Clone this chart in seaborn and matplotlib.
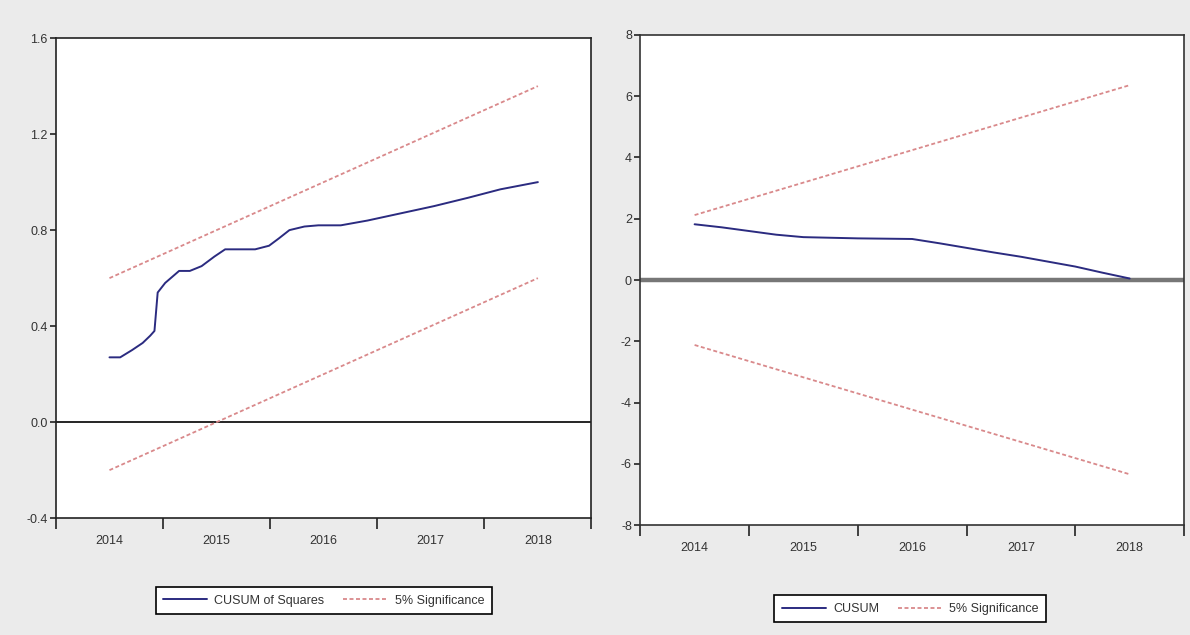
import matplotlib
matplotlib.use("Agg")
import matplotlib.pyplot as plt
import pandas as pd
import seaborn as sns

# ---- CUSUM of squares (left panel) ----
cusumsq_t = [2014.00, 2014.10, 2014.21, 2014.31, 2014.38, 2014.42, 2014.45, 2014.52,
             2014.65, 2014.75, 2014.86, 2014.98, 2015.08, 2015.24, 2015.36, 2015.49,
             2015.58, 2015.68, 2015.82, 2015.95, 2016.16, 2016.41, 2016.72, 2017.03,
             2017.35, 2017.65, 2018.00]
cusumsq_v = [0.27, 0.27, 0.30, 0.33, 0.36, 0.38, 0.54, 0.58,
             0.63, 0.63, 0.65, 0.69, 0.72, 0.72, 0.72, 0.735,
             0.765, 0.80, 0.815, 0.82, 0.82, 0.84, 0.87, 0.90,
             0.935, 0.97, 1.00]
sq_band_t = [2014.0, 2018.0]
sq_upper = [0.60, 1.40]
sq_lower = [-0.20, 0.60]

# ---- CUSUM (right panel) ----
cusum_t = [2014.00, 2014.25, 2014.50, 2014.75, 2015.00, 2015.25, 2015.50, 2015.75,
           2016.00, 2016.25, 2016.50, 2016.75, 2017.00, 2017.25, 2017.50, 2017.75,
           2018.00]
cusum_v = [1.82, 1.72, 1.60, 1.48, 1.40, 1.38, 1.36, 1.35,
           1.34, 1.20, 1.05, 0.90, 0.76, 0.60, 0.44, 0.24,
           0.05]
cs_band_t = [2014.0, 2018.0]
cs_upper = [2.12, 6.36]
cs_lower = [-2.12, -6.34]

years = [2014, 2015, 2016, 2017, 2018]
year_labels = ["2014", "2015", "2016", "2017", "2018"]
left_yticks = [-0.4, 0.0, 0.4, 0.8, 1.2, 1.6]
right_yticks = [-8, -6, -4, -2, 0, 2, 4, 6, 8]

sns.set_style("ticks")
plt.rcParams["font.family"] = ["Liberation Sans Narrow", "Liberation Sans", "DejaVu Sans"]
plt.rcParams["axes.unicode_minus"] = False

BLUE = "#2b2b80"
RED = "#d9898b"
DASH = (0, (2.2, 1.4))

fig = plt.figure(figsize=(11.9, 6.35), dpi=100, facecolor="#ebebeb")
axL = fig.add_axes([0.047, 0.184, 0.450, 0.756])
axR = fig.add_axes([0.538, 0.173, 0.457, 0.772])


def style_axes(ax, yticks, ylabels, spine_color):
    ax.set_facecolor("white")
    ax.set_xlim(2013.5, 2018.5)
    ax.set_ylim(min(yticks), max(yticks))
    ax.set_xticks([y - 0.5 for y in years] + [years[-1] + 0.5])
    ax.set_xticklabels([])
    ax.set_xticks(years, minor=True)
    ax.set_xticklabels(year_labels, minor=True)
    ax.tick_params(axis="x", which="major", length=8, width=1.2, direction="out",
                   color="#222222")
    ax.tick_params(axis="x", which="minor", length=0, pad=12, labelsize=9,
                   labelcolor="#333333")
    ax.set_yticks(yticks)
    ax.set_yticklabels(ylabels)
    ax.tick_params(axis="y", length=4, width=1.2, direction="out", pad=2,
                   labelsize=9, labelcolor="#333333", color="#222222")
    for s in ax.spines.values():
        s.set_visible(True)
        s.set_color(spine_color)
        s.set_linewidth(1.2)
    ax.set_xlabel("")
    ax.set_ylabel("")


# Left: CUSUM of squares with 5% bands
axL.axhline(0, color="black", lw=1.2, zorder=1)
sq_df = pd.DataFrame({"t": cusumsq_t, "v": cusumsq_v})
sns.lineplot(data=sq_df, x="t", y="v", ax=axL, color=BLUE, lw=1.4,
             estimator=None, sort=False, label="CUSUM of Squares", legend=False)
sns.lineplot(x=sq_band_t, y=sq_upper, ax=axL, color=RED, lw=1.3, linestyle=DASH,
             estimator=None, label="5% Significance", legend=False)
sns.lineplot(x=sq_band_t, y=sq_lower, ax=axL, color=RED, lw=1.3, linestyle=DASH,
             estimator=None, legend=False)
style_axes(axL, left_yticks, [f"{v:.1f}" for v in left_yticks], "#222222")

# Right: CUSUM with 5% bands
axR.axhline(0, color="#777777", lw=3.2, zorder=1)
cs_df = pd.DataFrame({"t": cusum_t, "v": cusum_v})
sns.lineplot(data=cs_df, x="t", y="v", ax=axR, color=BLUE, lw=1.4,
             estimator=None, sort=False, label="CUSUM", legend=False)
sns.lineplot(x=cs_band_t, y=cs_upper, ax=axR, color=RED, lw=1.3, linestyle=DASH,
             estimator=None, label="5% Significance", legend=False)
sns.lineplot(x=cs_band_t, y=cs_lower, ax=axR, color=RED, lw=1.3, linestyle=DASH,
             estimator=None, legend=False)
style_axes(axR, right_yticks, [str(v) for v in right_yticks], "#333333")

for ax, center in ((axL, (0.272, 0.054)), (axR, (0.765, 0.041))):
    handles, labels = ax.get_legend_handles_labels()
    leg = fig.legend(handles, labels, loc="center", bbox_to_anchor=center, ncol=2,
                     frameon=True, fancybox=False, fontsize=9, handlelength=3.5,
                     columnspacing=1.5, handletextpad=0.6, borderpad=0.6,
                     edgecolor="black", facecolor="white", framealpha=1)
    leg.get_frame().set_linewidth(1.2)
    for t in leg.get_texts():
        t.set_color("#333333")

fig.savefig("out.png", dpi=100, facecolor=fig.get_facecolor())
